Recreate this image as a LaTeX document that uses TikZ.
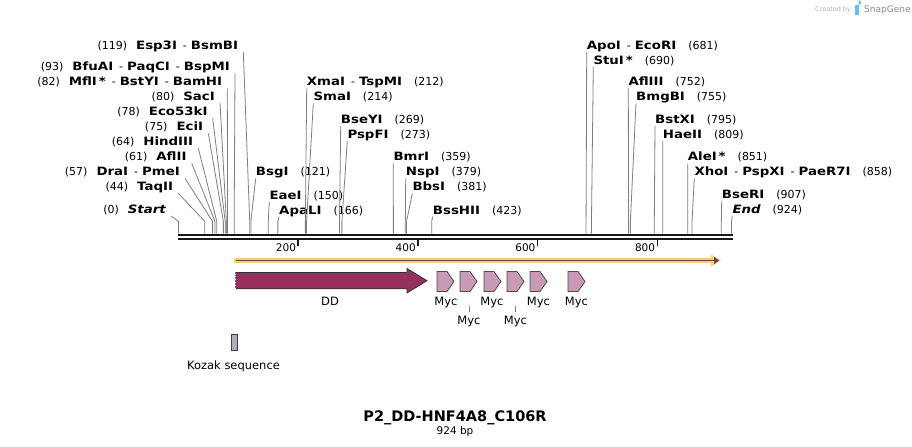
\documentclass[tikz,border=0pt]{standalone}
\usepackage{fontspec}
\setmainfont{DejaVu Sans}
\newfontfamily\enzfont{DejaVu Sans}[FakeStretch=1.16]
\usepackage{tikz}
\usetikzlibrary{arrows.meta}
\definecolor{cutgray}{HTML}{7F7F7F}
\definecolor{ddcol}{HTML}{96305F}
\definecolor{myccol}{HTML}{C99AB5}
\definecolor{kozcol}{HTML}{A9B0BA}
\definecolor{bandcol}{HTML}{FFCC6E}
\definecolor{bandline}{HTML}{5C4D3C}
\tikzstyle{lbl} = [inner sep=0pt, font=\fontsize{11}{13}\selectfont]
\tikzstyle{lblL} = [lbl, anchor=base east]
\tikzstyle{lblR} = [lbl, anchor=base west]
\tikzstyle{cut} = [draw, cutgray, line width=0.8pt]
\tikzstyle{feat} = [lbl, anchor=base, font=\fontsize{11.5}{13}\selectfont]
\tikzstyle{myc} = [draw=black!70, fill=myccol, line width=0.8pt]
\newcommand{\enzname}[1]{{\enzfont\fontsize{11.5}{13}\selectfont\bfseries #1}}
\newcommand{\enzend}[1]{{\enzfont\fontsize{11.5}{13}\selectfont\bfseries\itshape #1}}
\newcommand{\enzsep}{\hspace{6pt}-\hspace{4pt}}

\begin{document}
\begin{tikzpicture}[x=1pt, y=-1pt]
      \fill [white] (0,0) rectangle (912,444);
      \foreach \p in {0,44,57,61,64,75,78,80,82,93,119,121,150,166,212,214,269,273,359,379,381,423,681,690,752,755,795,809,851,858,907,924}
        \coordinate (c\p) at ({178.5+0.5985*\p},231);

      \node [lblL] (esp) at (238.3,46.7) {(119)\hspace{9pt}\enzname{Esp3I}\enzsep\enzname{BsmBI}};
      \node [lblL] (bfu) at (230,68.3) {(93)\hspace{9pt}\enzname{BfuAI}\enzsep\enzname{PaqCI}\enzsep\enzname{BspMI}};
      \node [lblL] (mfl) at (222.3,83.3) {(82)\hspace{9pt}\enzname{MflI\,*}\enzsep\enzname{BstYI}\enzsep\enzname{BamHI}};
      \node [lblL] (sac) at (215,97.7) {(80)\hspace{9pt}\enzname{SacI}};
      \node [lblL] (eco) at (207.7,113.3) {(78)\hspace{9pt}\enzname{Eco53kI}};
      \node [lblL] (eci) at (203.3,128.3) {(75)\hspace{9pt}\enzname{EciI}};
      \node [lblL] (hind) at (193.3,143.3) {(64)\hspace{9pt}\enzname{HindIII}};
      \node [lblL] (afl) at (186.7,158.3) {(61)\hspace{9pt}\enzname{AflII}};
      \node [lblL] (dra) at (180,173.3) {(57)\hspace{9pt}\enzname{DraI}\enzsep\enzname{PmeI}};
      \node [lblL] (taq) at (173.3,188.3) {(44)\hspace{9pt}\enzname{TaqII}};
      \node [lblL] (start) at (166,211) {(0)\hspace{9pt}\enzend{Start}};

      \node [lblR] (bsg) at (255.7,173.3) {\enzname{BsgI}\hspace{12pt}(121)};
      \node [lblR] (eae) at (269.3,196.7) {\enzname{EaeI}\hspace{12pt}(150)};
      \node [lblR] (apa) at (279,211.7) {\enzname{ApaLI}\hspace{12pt}(166)};
      \node [lblR] (xma) at (306.7,83.3) {\enzname{XmaI}\enzsep\enzname{TspMI}\hspace{12pt}(212)};
      \node [lblR] (sma) at (313.3,98.3) {\enzname{SmaI}\hspace{12pt}(214)};
      \node [lblR] (bsey) at (340.7,121) {\enzname{BseYI}\hspace{12pt}(269)};
      \node [lblR] (pspf) at (347.3,136) {\enzname{PspFI}\hspace{12pt}(273)};
      \node [lblR] (bmr) at (393.3,158.3) {\enzname{BmrI}\hspace{12pt}(359)};
      \node [lblR] (nsp) at (405.7,173.3) {\enzname{NspI}\hspace{12pt}(379)};
      \node [lblR] (bbs) at (412.3,188.3) {\enzname{BbsI}\hspace{12pt}(381)};
      \node [lblR] (bss) at (432.7,211.7) {\enzname{BssHII}\hspace{12pt}(423)};
      \node [lblR] (apo) at (586.7,46.7) {\enzname{ApoI}\enzsep\enzname{EcoRI}\hspace{12pt}(681)};
      \node [lblR] (stu) at (593.3,61.7) {\enzname{StuI\,*}\hspace{12pt}(690)};
      \node [lblR] (afliii) at (628.3,83.3) {\enzname{AflIII}\hspace{12pt}(752)};
      \node [lblR] (bmg) at (636,98.3) {\enzname{BmgBI}\hspace{12pt}(755)};
      \node [lblR] (bstx) at (655,121) {\enzname{BstXI}\hspace{12pt}(795)};
      \node [lblR] (hae) at (662.7,136) {\enzname{HaeII}\hspace{12pt}(809)};
      \node [lblR] (ale) at (687.7,158.3) {\enzname{AleI\,*}\hspace{12pt}(851)};
      \node [lblR] (xho) at (694.3,173.3) {\enzname{XhoI}\enzsep\enzname{PspXI}\enzsep\enzname{PaeR7I}\hspace{12pt}(858)};
      \node [lblR] (bser) at (721.7,196) {\enzname{BseRI}\hspace{12pt}(907)};
      \node [lblR] (end) at (732.3,211) {\enzend{End}\hspace{12pt}(924)};

      \path [cut] ([xshift=5pt,yshift=-2.5pt]esp.base east) -- ([yshift=12pt]c119) -- (c119);
      \path [cut] ([xshift=5pt,yshift=-2.5pt]bfu.base east) -- ([yshift=12pt]c93) -- (c93);
      \path [cut] ([xshift=5pt,yshift=-2.5pt]mfl.base east) -- ([yshift=12pt]c82) -- (c82);
      \path [cut] ([xshift=5pt,yshift=-2.5pt]sac.base east) -- ([yshift=12pt]c80) -- (c80);
      \path [cut] ([xshift=5pt,yshift=-2.5pt]eco.base east) -- ([yshift=12pt]c78) -- (c78);
      \path [cut] ([xshift=5pt,yshift=-2.5pt]eci.base east) -- ([yshift=12pt]c75) -- (c75);
      \path [cut] ([xshift=5pt,yshift=-2.5pt]hind.base east) -- ([yshift=12pt]c64) -- (c64);
      \path [cut] ([xshift=5pt,yshift=-2.5pt]afl.base east) -- ([yshift=12pt]c61) -- (c61);
      \path [cut] ([xshift=5pt,yshift=-2.5pt]dra.base east) -- ([yshift=12pt]c57) -- (c57);
      \path [cut] ([xshift=5pt,yshift=-2.5pt]taq.base east) -- ([yshift=12pt]c44) -- (c44);
      \path [cut] ([xshift=5pt,yshift=-2.5pt]start.base east) -- ([yshift=12pt]c0) -- (c0);

      \path [cut] ([yshift=-2.5pt]bsg.base west) -- ([yshift=12pt]c121) -- (c121);
      \path [cut] ([yshift=-2.5pt]eae.base west) -- ([yshift=12pt]c150) -- (c150);
      \path [cut] ([yshift=-2.5pt]apa.base west) -- ([yshift=12pt]c166) -- (c166);
      \path [cut] ([yshift=-2.5pt]xma.base west) -- ([yshift=12pt]c212) -- (c212);
      \path [cut] ([yshift=-2.5pt]sma.base west) -- ([yshift=12pt]c214) -- (c214);
      \path [cut] ([yshift=-2.5pt]bsey.base west) -- ([yshift=12pt]c269) -- (c269);
      \path [cut] ([yshift=-2.5pt]pspf.base west) -- ([yshift=12pt]c273) -- (c273);
      \path [cut] ([yshift=-2.5pt]bmr.base west) -- ([yshift=12pt]c359) -- (c359);
      \path [cut] ([yshift=-2.5pt]nsp.base west) -- ([yshift=12pt]c379) -- (c379);
      \path [cut] ([yshift=-2.5pt]bbs.base west) -- ([yshift=12pt]c381) -- (c381);
      \path [cut] ([yshift=-2.5pt]bss.base west) -- ([yshift=12pt]c423) -- (c423);
      \path [cut] ([yshift=-2.5pt]apo.base west) -- ([yshift=12pt]c681) -- (c681);
      \path [cut] ([yshift=-2.5pt]stu.base west) -- ([yshift=12pt]c690) -- (c690);
      \path [cut] ([yshift=-2.5pt]afliii.base west) -- ([yshift=12pt]c752) -- (c752);
      \path [cut] ([yshift=-2.5pt]bmg.base west) -- ([yshift=12pt]c755) -- (c755);
      \path [cut] ([yshift=-2.5pt]bstx.base west) -- ([yshift=12pt]c795) -- (c795);
      \path [cut] ([yshift=-2.5pt]hae.base west) -- ([yshift=12pt]c809) -- (c809);
      \path [cut] ([yshift=-2.5pt]ale.base west) -- ([yshift=12pt]c851) -- (c851);
      \path [cut] ([yshift=-2.5pt]xho.base west) -- ([yshift=12pt]c858) -- (c858);
      \path [cut] ([yshift=-2.5pt]bser.base west) -- ([yshift=12pt]c907) -- (c907);
      \path [cut] ([yshift=-2.5pt]end.base west) -- ([yshift=12pt]c924) -- (c924);

      \draw [line width=2pt, black!90] (178,232.2) -- (733,232.2);
      \draw [line width=2pt, black!90] (178,236.4) -- (733,236.4);
      \foreach \t in {200,400,600,800} {
        \draw [line width=1.6pt, black!90] ({178.5+0.5985*\t},237) -- ({178.5+0.5985*\t},243.5);
        \node [lbl, anchor=base east, font=\fontsize{10.5}{12}\selectfont] (t\t) at ({176.5+0.5985*\t},249) {\t};
      }

      \draw [bandcol, line width=5.5pt] (234,258) -- (713,258);
      \fill [bandcol] (711,252) -- (721,258) -- (711,264) -- cycle;
      \draw [bandline, line width=1.6pt, -{Triangle[length=5pt,width=7pt]}] (236,258) -- (719,258);

      \path [draw=black!80, fill=ddcol, line width=0.8pt] (235.7,270) -- (407,270) -- (407,266) -- (427,278.2) -- (407,290.5) -- (407,286.3) -- (235.7,286.3) -- cycle;
      \draw [white, dotted, line width=0.8pt] (235.7,271) -- (235.7,285.3);
      \foreach \m in {437,460,484,507,530,568}
        \path [myc] (\m,269) -- ++(10,0) -- ++(7,10) -- ++(-7,10) -- ++(-10,0) -- cycle;

      \node [feat] (dd) at (330,302.7) {DD};
      \node [feat] (myc1) at (446,302.7) {Myc};
      \node [feat] (myc2) at (469,322) {Myc};
      \node [feat] (myc3) at (492,302.7) {Myc};
      \node [feat] (myc4) at (515.5,322) {Myc};
      \node [feat] (myc5) at (538.5,302.7) {Myc};
      \node [feat] (myc6) at (576.5,302.7) {Myc};
      \path [draw, black!50, line width=0.8pt] ([yshift=3.5pt]myc2.north) -- ([yshift=9.5pt]myc2.north);
      \path [draw, black!50, line width=0.8pt] ([yshift=3.5pt]myc4.north) -- ([yshift=9.5pt]myc4.north);

      \path [draw=black!75, fill=kozcol, line width=0.8pt] (231,331.5) rectangle (237.5,347.5);
      \node [feat] (koz) at (233.5,366.7) {Kozak sequence};

      \node [lbl, anchor=base, font=\fontsize{14.5}{16}\bfseries] (title) at (455,419) {P2\_DD-HNF4A8\_C106R};
      \node [lbl, anchor=base, font=\fontsize{10.5}{12}\selectfont] (len) at (455,431.7) {924 bp};

      \node [lbl, anchor=base west, font=\fontsize{6.5}{8}\selectfont, text=black!30] (cby) at (815,9.5) {Created by};
      \path [fill=blue!45!cyan!60] (855,2.5) rectangle (858.5,12.5);
      \path [fill=blue!45!cyan!60] (858.5,2.5) arc (90:-90:2.5 and 2.5) -- cycle;
      \node [lbl, anchor=base west, font=\fontsize{9}{10}\selectfont, text=black!45] (snap) at (864,10.5) {SnapGene};
    \end{tikzpicture}
\end{document}
